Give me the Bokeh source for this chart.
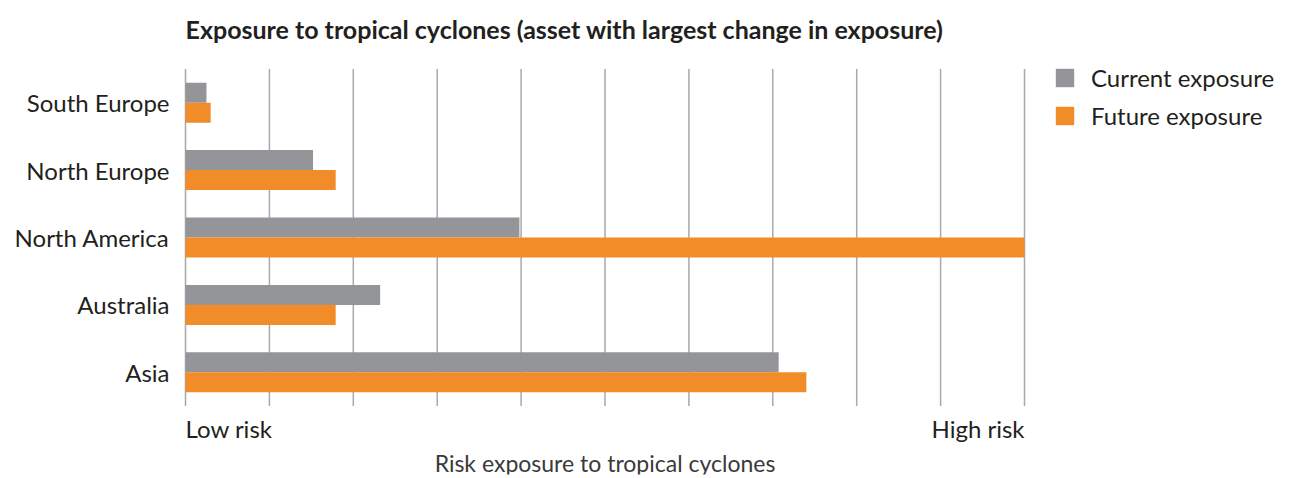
from bokeh.plotting import figure
from bokeh.models import FactorRange, Range1d, Label, Legend, LegendItem, ColumnDataSource
from bokeh.core.properties import value
from bokeh.transform import dodge
from bokeh.embed import file_html
from bokeh.resources import INLINE

regions = ["South Europe", "North Europe", "North America", "Australia", "Asia"]
current = [0.25, 1.52, 3.98, 2.32, 7.07]
future = [0.30, 1.79, 10.0, 1.79, 7.40]
series_names = ["Current exposure", "Future exposure"]
grid_ticks = list(range(0, 11))
low_label = "Low risk"
high_label = "High risk"
x_title = "Risk exposure to tropical cyclones"
title_text = "Exposure to tropical cyclones (asset with largest change in exposure)"

GRAY = "#939598"
ORANGE = "#f28c28"
GRID = "#a7a9ac"
TEXT = "#231f20"
FONT = "Lato"

W, H = 1293, 478
BOTTOM_PAD = 4
FH = H - BOTTOM_PAD  # frame height
# plot area (px): left 185, right 1024, top 68, bottom 405
px_per_unit = (1024 - 185) / 10.0
factors = list(reversed(regions))
cat_px = (405 - 68) / len(factors)

src = ColumnDataSource(dict(region=regions, current=current, future=future))

p = figure(width=W, height=H, output_backend="svg", toolbar_location=None,
           x_axis_type=None, y_axis_type=None,
           x_range=Range1d(-185 / px_per_unit, 10 + (W - 1024) / px_per_unit),
           y_range=FactorRange(*factors, range_padding=(FH - (405 - 68)) / cat_px / 2,
                               range_padding_units="absolute"),
           min_border=0, min_border_bottom=BOTTOM_PAD)
p.outline_line_color = None
p.xgrid.visible = False
p.ygrid.visible = False

# vertical grid lines spanning the category area
p.segment(x0=grid_ticks, y0=0, x1=grid_ticks, y1=len(factors),
          line_color=GRID, line_width=1.5)

r1 = p.hbar(y=dodge("region", 0.148, range=p.y_range), right="current", left=0, height=0.297,
            source=src, fill_color=GRAY, line_color=None)
r2 = p.hbar(y=dodge("region", -0.148, range=p.y_range), right="future", left=0, height=0.297,
            source=src, fill_color=ORANGE, line_color=None)

# category labels
p.text(x=0, y="region", text="region", source=src, x_offset=-16,
       text_align="right", text_baseline="middle", text_font=value(FONT),
       text_font_size="24px", text_color=TEXT)

legend = Legend(items=[LegendItem(label=series_names[0], renderers=[r1]),
                       LegendItem(label=series_names[1], renderers=[r2])],
                location=(1053, FH - 130), padding=0, margin=0, spacing=9,
                glyph_width=23, glyph_height=23, label_height=23, label_standoff=15,
                label_text_font=FONT, label_text_font_size="24px", label_text_color=TEXT,
                border_line_color=None, background_fill_alpha=0)
p.add_layout(legend)

p.add_layout(Label(x=0, y=FH - 428, x_units="data", y_units="screen", text=low_label,
                   text_font=FONT, text_font_size="24px", text_color=TEXT,
                   text_align="left", text_baseline="middle"))
p.add_layout(Label(x=10, y=FH - 428, x_units="data", y_units="screen", text=high_label,
                   text_font=FONT, text_font_size="24px", text_color=TEXT,
                   text_align="right", text_baseline="middle"))
p.add_layout(Label(x=5, y=FH - 462, x_units="data", y_units="screen", text=x_title,
                   text_font=FONT, text_font_size="23px", text_color="#3a3a3a",
                   text_align="center", text_baseline="middle"))
p.add_layout(Label(x=0, y=FH - 28, x_units="data", y_units="screen", text=title_text,
                   text_font=FONT, text_font_size="25px", text_font_style="bold", text_color=TEXT,
                   text_align="left", text_baseline="middle"))

open("out.html", "w").write(file_html(p, INLINE))
